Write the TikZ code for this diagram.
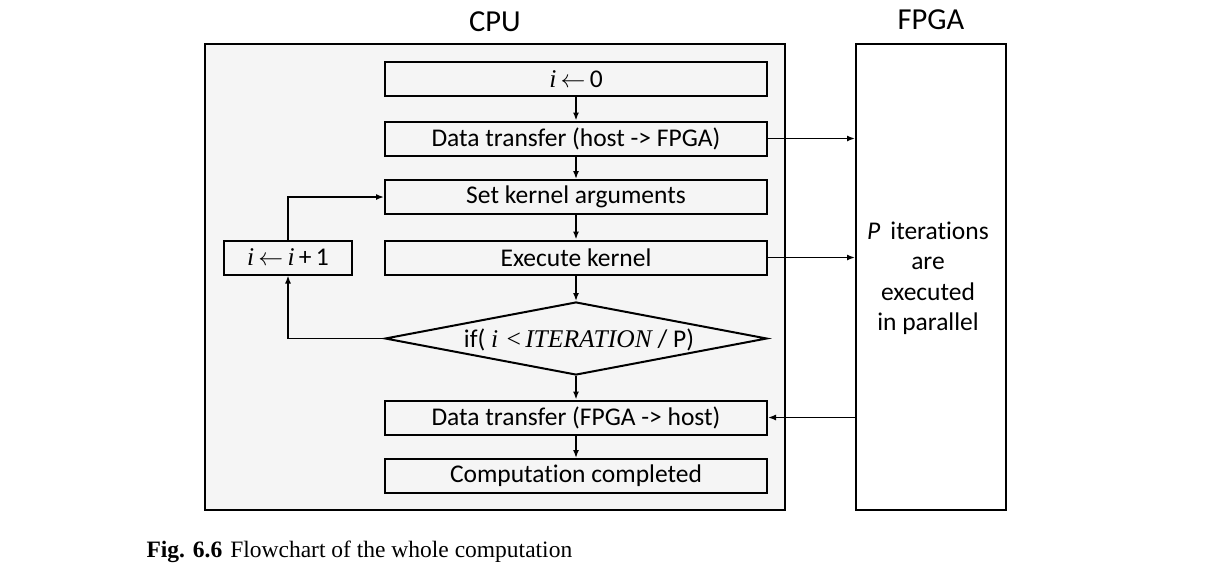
\documentclass[tikz,border=0pt]{standalone}
\usepackage{fontspec}
\setmainfont{Carlito}[Ligatures=NoCommon]
\newfontfamily\tms{Liberation Serif}
\usetikzlibrary{shapes.geometric,arrows.meta}
\definecolor{bgc}{HTML}{F5F5F5}
\newcommand{\vi}{{\tms\itshape i}}
\begin{document}
\begin{tikzpicture}[x=1pt,y=-1pt,font=\fontsize{25.5}{30}\selectfont,
  frame/.style={draw,line width=2pt,inner sep=0pt},
  stepbox/.style={frame,fill=bgc,minimum width=382,minimum height=34},
  ar/.style={line width=1.5pt,-{Latex[length=8pt,width=6pt]}}]
\useasboundingbox (0,0) rectangle (1211,574);
\node[frame,fill=bgc,minimum width=580,minimum height=466] (cpu) at (495,276.5) {};
\node[frame,fill=white,minimum width=150,minimum height=466] (fpga) at (931,276.5) {};
\node[font=\fontsize{30.5}{34}\selectfont] (cpul) at (495,22) {CPU};
\node[font=\fontsize{30.5}{34}\selectfont] (fpgal) at (931,20) {FPGA};
\node[stepbox] (b1) at (576,79) {\vi\,$\leftarrow$\,0};
\node[stepbox] (b2) at (576,138.5) {Data transfer (host -> FPGA)};
\node[stepbox] (b3) at (576,197) {Set kernel arguments};
\node[stepbox] (b4) at (576,257.5) {Execute kernel};
\node[frame,fill=bgc,diamond,minimum width=382,minimum height=73] (d) at (576,338.5) {};
\node (dt) at (579,340) {if( \vi\,{\tms\,<\,\itshape ITERATION} / P)};
\node[stepbox] (b5) at (576,417.5) {Data transfer (FPGA -> host)};
\node[stepbox] (b6) at (576,476) {Computation completed};
\node[stepbox,minimum width=128] (inc) at (288,257.5) {\vi\,$\leftarrow$\,\vi\,+\,1};
\coordinate (lt) at (288,197);
\coordinate (lb) at (288,338.5);
\node[align=center,font=\fontsize{25.5}{30.5}\selectfont] (ft) at (928,278.5) {\textit{P}\, iterations\\are\\executed\\in parallel};
\draw[ar] (b1) -- (b2);
\draw[ar] (b2) -- (b3);
\draw[ar] (b3) -- (b4);
\draw[ar] (b4) -- (d.north);
\draw[ar] (d.south) -- (b5);
\draw[ar] (b5) -- (b6);
\draw[ar] (d.west) -- (lb) -- (inc.south);
\draw[ar] (inc.north) -- (lt) -- (b3.west);
\draw[ar] (b2.east) -- (b2.east -| fpga.west);
\draw[ar] (b4.east) -- (b4.east -| fpga.west);
\draw[ar] (b5.east -| fpga.west) -- (b5.east);
\node[anchor=west,font=\tms\fontsize{23.5}{28}\selectfont] (cap) at (143,552) {\textbf{Fig. 6.6}\hspace{8pt}Flowchart of the whole computation};
\end{tikzpicture}
\end{document}
